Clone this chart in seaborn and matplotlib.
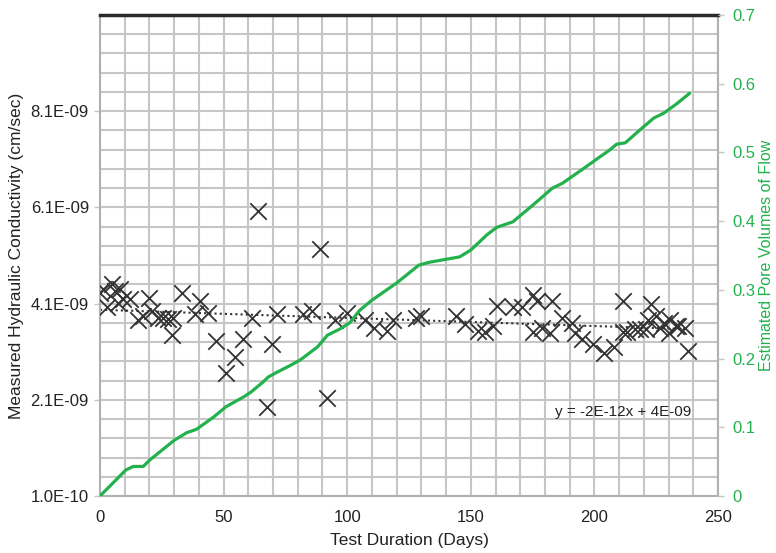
import numpy as np
import pandas as pd
import matplotlib
matplotlib.use("Agg")
import matplotlib.pyplot as plt
from matplotlib.ticker import FixedLocator
import seaborn as sns

# ---- data ----
k_days = [0, 1.3, 2.7, 4.7, 6, 7.4, 8, 9.4, 12, 15.5, 17.5, 20, 21, 23.6, 25.6, 27.6,
          29, 29.6, 33, 38.4, 40.4, 43.7, 47, 51, 54.5, 58, 61.5, 64, 67.4, 69.5, 71.5,
          82, 85.6, 89, 91.7, 95, 100, 107, 111, 116, 118.6, 128, 130, 144, 147.6, 153,
          155.7, 159, 160.6, 167, 170.6, 175, 175, 176.7, 179, 182, 183, 187, 191, 192,
          195, 199.5, 204, 208, 211.6, 211.6, 213, 216.4, 218.5, 221, 221.7, 223, 225,
          226.5, 228, 230, 230.5, 233, 234, 236.6, 238]
k_vals_e9 = [4.33, 4.41, 4.02, 4.51, 4.37, 4.12, 4.41, 4.20, 4.20, 3.75, 3.85, 4.22, 3.95,
             3.81, 3.81, 3.79, 3.44, 3.81, 4.33, 3.89, 4.16, 3.91, 3.33, 2.65, 3.00, 3.37,
             3.81, 6.03, 1.94, 3.27, 3.89, 3.89, 3.95, 5.24, 2.13, 3.75, 3.91, 3.75, 3.60,
             3.54, 3.75, 3.81, 3.85, 3.85, 3.68, 3.54, 3.50, 3.64, 4.06, 4.02, 4.02, 4.27,
             3.50, 4.16, 3.60, 3.48, 4.16, 3.81, 3.70, 3.48, 3.37, 3.27, 3.08, 3.19, 4.16,
             3.50, 3.50, 3.58, 3.58, 3.58, 3.75, 4.10, 3.85, 3.60, 3.70, 3.48, 3.75, 3.64,
             3.64, 3.60, 3.12]

pv_days = [0, 10.5, 13.5, 17.5, 20, 30, 35, 39, 46, 51, 58, 61, 66, 68, 71, 77, 81, 88,
           92, 97, 101, 105, 110, 120, 129, 133, 145.5, 150, 156.5, 160.5, 167, 175, 183,
           187, 195, 202, 206, 209, 212.5, 218.5, 224, 228, 233, 238.5]
pv_vals = [0, 0.038, 0.043, 0.043, 0.052, 0.081, 0.092, 0.097, 0.115, 0.130, 0.144,
           0.151, 0.166, 0.173, 0.179, 0.190, 0.198, 0.217, 0.234, 0.243, 0.252, 0.270,
           0.285, 0.310, 0.336, 0.340, 0.348, 0.358, 0.380, 0.391, 0.399, 0.423, 0.448,
           0.455, 0.475, 0.493, 0.503, 0.512, 0.514, 0.533, 0.550, 0.557, 0.570, 0.586]

left_ticks = [1.0e-10, 2.1e-9, 4.1e-9, 6.1e-9, 8.1e-9]
left_tick_labels = ["1.0E-10", "2.1E-09", "4.1E-09", "6.1E-09", "8.1E-09"]
right_ticks = [0, 0.1, 0.2, 0.3, 0.4, 0.5, 0.6, 0.7]
right_tick_labels = ["0", "0.1", "0.2", "0.3", "0.4", "0.5", "0.6", "0.7"]
x_ticks = [0, 50, 100, 150, 200, 250]
equation = "y = -2E-12x + 4E-09"

k_df = pd.DataFrame({"day": k_days, "k": np.array(k_vals_e9) * 1e-9})
pv_df = pd.DataFrame({"day": pv_days, "pv": pv_vals})

# ---- style ----
sns.set_theme(style="white")
plt.rcParams["font.family"] = ["Liberation Sans", "DejaVu Sans"]

GREEN = "#23b14d"
GRID = "#c6c6c6"
DARK = "#333333"
FS = 12
LFS = 12.5

fig = plt.figure(figsize=(7.76, 5.53), dpi=100)
ax = fig.add_axes([100 / 776, 1 - 496 / 553, 618 / 776, 481 / 553])

ax.set_xlim(0, 250)
ax.set_ylim(1.0e-10, 1.01e-8)

# grid
ax.xaxis.set_major_locator(FixedLocator(x_ticks))
ax.xaxis.set_minor_locator(FixedLocator(np.arange(0, 251, 10)))
ax.yaxis.set_major_locator(FixedLocator(left_ticks))
ax.yaxis.set_minor_locator(FixedLocator(1.0e-10 + np.arange(0, 26) * 4e-10))
ax.grid(True, which="both", color=GRID, linewidth=1.5, zorder=0)
ax.set_axisbelow(True)

sns.scatterplot(data=k_df, x="day", y="k", marker="x", s=140, color=DARK,
                linewidth=1.3, ax=ax, zorder=3, legend=False)
sns.regplot(data=k_df, x="day", y="k", scatter=False, ci=None, ax=ax,
            line_kws=dict(color=DARK, linestyle=(0, (1, 1.5)), linewidth=1.5, zorder=2))

ax.set_yticklabels(left_tick_labels)
ax.set_xticklabels([str(t) for t in x_ticks])
ax.tick_params(axis="both", which="major", labelsize=FS, colors="#222222",
               length=4, width=1, direction="out")
ax.tick_params(axis="both", which="minor", length=0)
ax.tick_params(axis="y", colors=GRID, labelcolor="#222222", pad=4)
ax.tick_params(axis="x", length=0, pad=10, labelcolor="#222222")
ax.set_xlabel("Test Duration (Days)", fontsize=LFS, color="#222222", labelpad=6)
ax.set_ylabel("Measured Hydraulic Conductivity (cm/sec)", fontsize=LFS,
              color="#222222", labelpad=5)

ax.text(184, 1.84e-9, equation, fontsize=11, color="#222222", va="center")

for side in ["left", "bottom", "right"]:
    ax.spines[side].set_color("#b0b0b0")
    ax.spines[side].set_linewidth(1.5)
ax.spines["top"].set_color("#2a2a2a")
ax.spines["top"].set_linewidth(2.5)

# secondary axis
ax2 = ax.twinx()
sns.lineplot(data=pv_df, x="day", y="pv", color=GREEN, linewidth=2.3, ax=ax2,
             legend=False)
ax2.set_ylim(0, 0.7)
ax2.set_yticks(right_ticks)
ax2.set_yticklabels(right_tick_labels)
ax2.tick_params(axis="y", labelsize=FS, colors=GRID, labelcolor=GREEN,
                length=4, width=1, direction="out", pad=6)
ax2.set_ylabel("Estimated Pore Volumes of Flow", fontsize=11.5, color=GREEN,
               labelpad=3)
ax2.grid(False)
for side in ["left", "bottom", "right", "top"]:
    ax2.spines[side].set_visible(False)

fig.savefig("out.png", dpi=100)
